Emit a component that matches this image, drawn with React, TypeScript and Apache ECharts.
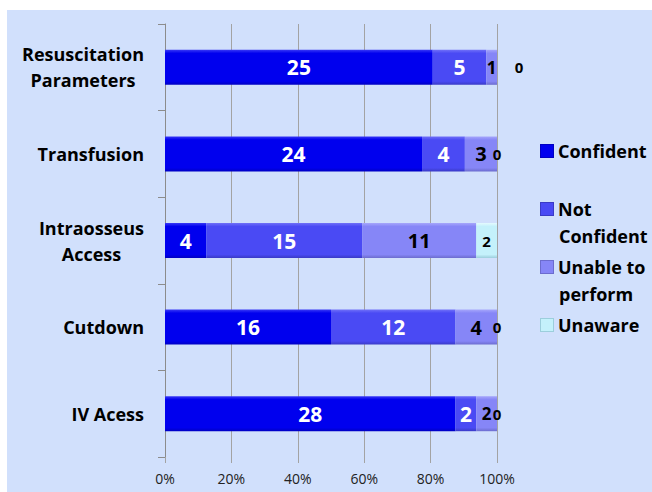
import React, { useEffect, useRef } from "react";
import * as echarts from "echarts";

// Survey answers per procedure (counts of respondents)
const categories = [
  "Resuscitation\nParameters",
  "Transfusion",
  "Intraosseus\nAccess",
  "Cutdown",
  "IV Acess",
];
const seriesNames = ["Confident", "Not Confident", "Unable to perform", "Unaware"];
const confident = [25, 24, 4, 16, 28];
const notConfident = [5, 4, 15, 12, 2];
const unableToPerform = [1, 3, 11, 4, 2];
const unaware = [0, 0, 2, 0, 0];
const percentTicks = [0, 20, 40, 60, 80, 100];

const FONT = "'Open Sans', 'Noto Sans', sans-serif";

type Shade = { top: string; base: string; bottom: string };
const shades: Shade[] = [
  { top: "#3838F6", base: "#0000EE", bottom: "#0000C2" },
  { top: "#7070F8", base: "#4A4AF4", bottom: "#3A3AC6" },
  { top: "#A6A6FB", base: "#8686F7", bottom: "#6C6CCE" },
  { top: "#E4FAFE", base: "#C4F1FB", bottom: "#9CCEDC" },
];

const barFill = (s: Shade) =>
  new echarts.graphic.LinearGradient(0, 0, 0, 1, [
    { offset: 0, color: s.top },
    { offset: 0.1, color: s.base },
    { offset: 0.9, color: s.base },
    { offset: 1, color: s.bottom },
  ]);

export default function App() {
  const ref = useRef<HTMLDivElement>(null);

  useEffect(() => {
    if (!ref.current) return;
    const chart = echarts.init(ref.current, undefined, { renderer: "svg" });

    const counts = [confident, notConfident, unableToPerform, unaware];
    const totals = categories.map((_, i) =>
      counts.reduce((sum, arr) => sum + arr[i], 0)
    );

    const labelStyles = [
      { color: "#FFFFFF", fontSize: 21 },
      { color: "#FFFFFF", fontSize: 21 },
      { color: "#000000", fontSize: 20 },
      { color: "#000000", fontSize: 15 },
    ];

    // small segments get a smaller label
    const labelOverride = (si: number, ci: number): any => {
      if (si === 2 && (ci === 0 || ci === 4)) return { fontSize: 17 };
      if (si === 3 && ci === 0) return { offset: [22, 0] };
      return undefined;
    };

    const series = counts.map((arr, si) => ({
      name: seriesNames[si],
      type: "bar",
      stack: "total",
      barWidth: 35,
      itemStyle: { color: barFill(shades[si]) },
      label: {
        show: true,
        position: "inside",
        fontFamily: FONT,
        fontWeight: "bold",
        ...labelStyles[si],
        formatter: (p: any) => String(arr[p.dataIndex]),
      },
      emphasis: { disabled: true },
      data: arr.map((v, ci) => {
        const item: any = { value: (v / totals[ci]) * 100 };
        const ov = labelOverride(si, ci);
        if (ov) item.label = ov;
        return item;
      }),
    }));

    const legendRich: any = {
      t: {
        fontFamily: FONT,
        fontWeight: "bold",
        fontSize: 18,
        color: "#000",
        lineHeight: 27,
        padding: [0, 0, 0, 5],
      },
      pad: { width: 13, height: 13 },
    };
    seriesNames.forEach((_, i) => {
      legendRich["sq" + i] = {
        width: 12,
        height: 12,
        backgroundColor: shades[i].base,
        borderColor: shades[i].bottom,
        borderWidth: 1,
      };
    });
    const legendLines: Record<string, string[]> = {
      Confident: ["Confident"],
      "Not Confident": ["Not", "Confident"],
      "Unable to perform": ["Unable to", "perform"],
      Unaware: ["Unaware"],
    };
    const legendFormatter = (name: string) => {
      const idx = seriesNames.indexOf(name);
      return legendLines[name]
        .map((line, li) =>
          li === 0 ? `{sq${idx}|}{t|${line}}` : `{pad|}{t|${line}}`
        )
        .join("\n");
    };
    const legendBase = {
      orient: "vertical",
      left: 536,
      padding: 0,
      icon: "none",
      itemWidth: 0,
      itemHeight: 0,
      itemGap: 13,
      selectedMode: false,
      formatter: legendFormatter,
      textStyle: { rich: legendRich },
    };

    chart.setOption({
      animation: false,
      graphic: [
        {
          type: "rect",
          z: -10,
          silent: true,
          shape: { x: 7, y: 10, width: 645, height: 482 },
          style: { fill: "#D1E0FC" },
        },
      ],
      grid: { left: 165, right: 155, top: 24, bottom: 35, containLabel: false },
      legend: [
        { ...legendBase, top: 142, data: [seriesNames[0]] },
        { ...legendBase, top: 200, data: seriesNames.slice(1) },
      ],
      xAxis: {
        type: "value",
        min: percentTicks[0],
        max: percentTicks[percentTicks.length - 1],
        interval: percentTicks[1] - percentTicks[0],
        axisLine: { show: false },
        axisTick: { show: true, length: 6, lineStyle: { color: "#A3A3A3" } },
        splitLine: { show: true, lineStyle: { color: "#A3A3A3", width: 1 } },
        axisLabel: {
          margin: 14,
          fontFamily: FONT,
          fontSize: 14,
          color: "#222",
          formatter: (v: number) => `${v}%`,
        },
      },
      yAxis: {
        type: "category",
        inverse: true,
        data: categories,
        axisLine: { show: true, lineStyle: { color: "#8C8C8C" } },
        axisTick: { show: true, length: 7, lineStyle: { color: "#8C8C8C" } },
        axisLabel: {
          margin: 21,
          formatter: (v: string) =>
            v
              .split("\n")
              .map((l) => `{c|${l}}`)
              .join("\n"),
          rich: {
            c: {
              align: "center",
              fontFamily: FONT,
              fontWeight: "bold",
              fontSize: 18,
              lineHeight: 26,
              color: "#000",
            },
          },
        },
      },
      series,
    });

    return () => chart.dispose();
  }, []);

  return (
    <div
      ref={ref}
      style={{ position: "absolute", left: 0, top: 0, width: 652, height: 492 }}
    />
  );
}
